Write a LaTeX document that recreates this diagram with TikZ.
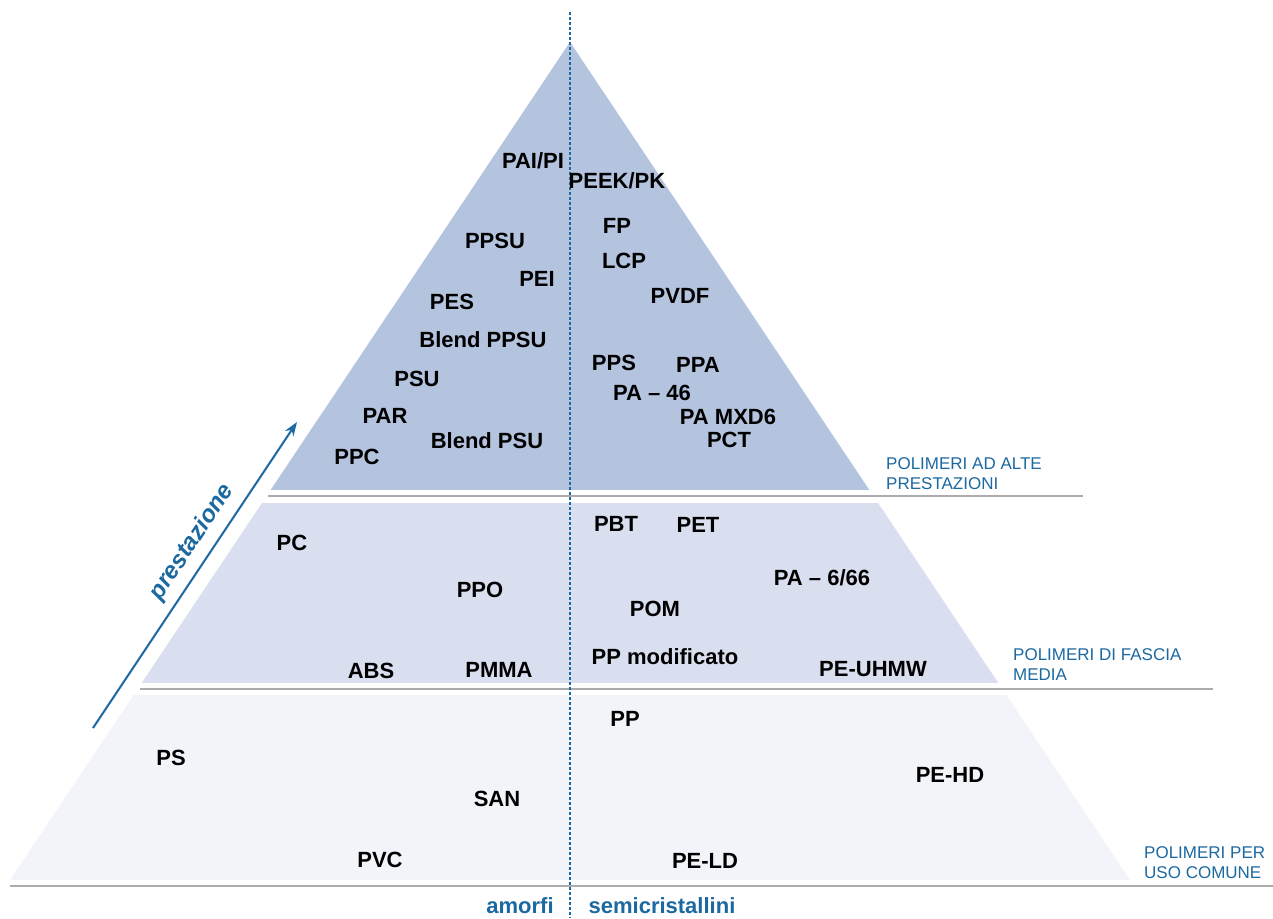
\documentclass[tikz,border=0pt]{standalone}
\usepackage{fontspec}
\setmainfont{Liberation Sans}
\usetikzlibrary{arrows.meta}
\definecolor{topband}{RGB}{180,195,222}
\definecolor{midband}{RGB}{217,223,239}
\definecolor{lowband}{RGB}{242,244,250}
\definecolor{pblue}{RGB}{28,104,160}
\definecolor{sepgray}{RGB}{172,172,172}
\begin{document}
\begin{tikzpicture}
		[x=1pt, y=-1pt,
		poly/.style={inner sep=0pt, font=\fontsize{22}{26}\selectfont\bfseries},
		klasse/.style={inner sep=0pt, anchor=west, align=left, text=pblue, font=\fontsize{17}{20}\selectfont},
		kind/.style={inner sep=0pt, text=pblue, font=\fontsize{22}{26}\selectfont\bfseries}]
		\useasboundingbox (0,0) rectangle (1273,918);
		% fasce della piramide
		\begin{scope}
			\clip (570,42) -- (1130,880) -- (10,880) -- cycle;
			\fill[topband] (0,0) rectangle (1273,490);
			\fill[midband] (0,503) rectangle (1273,683);
			\fill[lowband] (0,695) rectangle (1273,880);
		\end{scope}
		\draw[sepgray, line width=2.5pt] (268,496) -- (1083,496);
		\draw[sepgray, line width=2.5pt] (140,689) -- (1213,689);
		\draw[sepgray, line width=2.5pt] (10,886) -- (1273,886);
		\draw[pblue, line width=1.4pt, dash pattern=on 3pt off 2pt] (570,12) -- (570,918);
		% alte prestazioni
		\node[poly] (paipi) at (533,161) {PAI/PI};
		\node[poly] (peek) at (617,181) {PEEK/PK};
		\node[poly] (fp) at (617,226) {FP};
		\node[poly] (ppsu) at (495,241) {PPSU};
		\node[poly] (lcp) at (624,261) {LCP};
		\node[poly] (pei) at (537,279) {PEI};
		\node[poly] (pvdf) at (680,296) {PVDF};
		\node[poly] (pes) at (452,302) {PES};
		\node[poly] (bppsu) at (483,340) {Blend PPSU};
		\node[poly] (pps) at (614,363) {PPS};
		\node[poly] (ppa) at (698,365) {PPA};
		\node[poly] (psu) at (417,379) {PSU};
		\node[poly] (pa46) at (652,393) {PA -- 46};
		\node[poly] (par) at (385,416) {PAR};
		\node[poly] (pamxd) at (728,417) {PA MXD6};
		\node[poly] (bpsu) at (487,441) {Blend PSU};
		\node[poly] (pct) at (729,440) {PCT};
		\node[poly] (ppc) at (357,457) {PPC};
		% fascia media
		\node[poly] (pc) at (292,543) {PC};
		\node[poly] (pbt) at (616,524) {PBT};
		\node[poly] (pet) at (698,525) {PET};
		\node[poly] (pa666) at (822,578) {PA -- 6/66};
		\node[poly] (ppo) at (480,590) {PPO};
		\node[poly] (pom) at (655,609) {POM};
		\node[poly] (ppmod) at (665,657) {PP modificato};
		\node[poly] (abs) at (371,671) {ABS};
		\node[poly] (pmma) at (499,670) {PMMA};
		\node[poly] (peuhmw) at (873,669) {PE-UHMW};
		% uso comune
		\node[poly] (pp) at (625,719) {PP};
		\node[poly] (ps) at (171,758) {PS};
		\node[poly] (pehd) at (950,775) {PE-HD};
		\node[poly] (san) at (497,799) {SAN};
		\node[poly] (pvc) at (380,860) {PVC};
		\node[poly] (peld) at (705,861) {PE-LD};
		% classi
		\node[klasse] (alte) at (886,474) {POLIMERI AD ALTE\\PRESTAZIONI};
		\node[klasse] (media) at (1013,665) {POLIMERI DI FASCIA\\MEDIA};
		\node[klasse] (comune) at (1144,863) {POLIMERI PER\\USO COMUNE};
		\node[kind] (amorfi) at (520,906) {amorfi};
		\node[kind] (semi) at (662,906) {semicristallini};
		% freccia
		\coordinate (arrS) at (93,728);
		\coordinate (arrE) at (297,422);
		\draw[pblue, line width=2pt, -{Stealth[length=14pt, width=10pt]}] (arrS) -- (arrE)
			node[pos=0.57, sloped, above=5pt, font=\fontsize{24}{28}\selectfont\bfseries\itshape] {prestazione};
	\end{tikzpicture}
\end{document}
